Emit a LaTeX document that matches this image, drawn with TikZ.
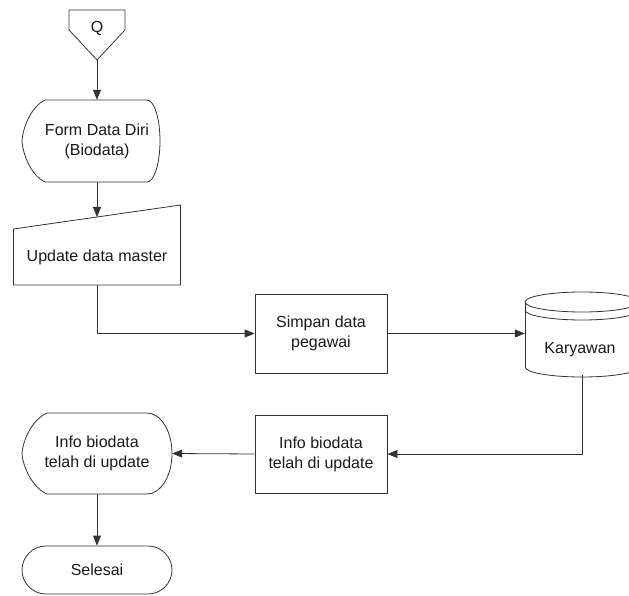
\documentclass[tikz,border=0pt]{standalone}
\usepackage{fontspec}
\setmainfont{Liberation Sans}
\usetikzlibrary{arrows.meta}
\begin{document}
\begin{tikzpicture}[x=1pt,y=-1pt,
  line/.style={draw=black!80, line width=0.8pt},
  flow/.style={line, -{Triangle[length=10pt,width=8pt]}},
  lbl/.style={font=\fontsize{16}{20}\selectfont, text=black!90, align=center, inner sep=0pt},
  frame/.style={inner sep=0pt, minimum width=#1},
  procbox/.style={line, lbl, minimum width=132pt, minimum height=79pt},
  endbox/.style={line, lbl, minimum width=150pt, minimum height=48pt, rounded corners=24pt}
]
\useasboundingbox (0,0) rectangle (629,596);
\clip (0,0) rectangle (629,596);

% off-page connector
\node (q) [frame=56pt, minimum height=50pt] at (97,35) {};
\node (qtext) [lbl] at (97,28) {Q};
\draw[line] (69,10) -- (125,10) -- (125,30) -- (97,60) -- (69,30) -- cycle;

% display: form
\node (form) [frame=150pt, minimum height=82pt, lbl] at (97,141) {Form Data Diri\\(Biodata)};
\draw[line] (45,100) -- (147,100)
  .. controls (154.2,100) and (160,118.4) .. (160,141)
  .. controls (160,163.6) and (154.2,182) .. (147,182) -- (45,182)
  .. controls (32,176) and (23,156) .. (22,141)
  .. controls (23,126) and (32,106) .. (45,100) -- cycle;

% manual input
\node (man) [frame=167pt, minimum height=80pt] at (97,245) {};
\node (mantext) [lbl] at (97,257) {Update data master};
\coordinate (manin) at (97,217);
\draw[line] (13.5,229) -- (180.5,205) -- (180.5,285) -- (13.5,285) -- cycle;

% process boxes
\node (simpan) [procbox] at (321,333.5) {Simpan data\\pegawai};
\node (info) [procbox, minimum height=78pt] at (321,454) {Info biodata\\telah di update};

% database
\node (kar) [frame=114pt, minimum height=83pt] at (582,333.5) {};
\node (kartext) [lbl] at (580,350) {Karyawan};
\draw[line] (582,302) ellipse [x radius=57pt, y radius=10pt];
\draw[line] (525,302) -- (525,367) (639,302) -- (639,367);
\draw[line] (525,310) .. controls (525,315.5) and (550.5,320) .. (582,320)
  .. controls (613.5,320) and (639,315.5) .. (639,310);
\draw[line] (525,367) .. controls (525,372.5) and (550.5,377) .. (582,377)
  .. controls (613.5,377) and (639,372.5) .. (639,367);

% display: result
\node (hasil) [frame=150pt, minimum height=81pt, lbl] at (97,453.5) {Info biodata\\telah di update};
\draw[line] (47,413) -- (147,413)
  .. controls (160.8,413) and (172,431.1) .. (172,453.5)
  .. controls (172,475.9) and (160.8,494) .. (147,494) -- (47,494)
  .. controls (33,488) and (23,468) .. (22,453.5)
  .. controls (23,439) and (33,419) .. (47,413) -- cycle;

% terminator
\node (selesai) [endbox] at (97,570) {Selesai};

% connectors
\draw[flow] (q.south) -- (form.north);
\draw[flow] (form.south) -- (manin);
\draw[flow] (man.south) |- (simpan.west);
\draw[flow] (simpan.east) -- (kar.west);
\draw[flow] (kar.south) |- (info.east);
\draw[flow] (info.west) -- (hasil.east);
\draw[flow] (hasil.south) -- (selesai.north);
\end{tikzpicture}
\end{document}
